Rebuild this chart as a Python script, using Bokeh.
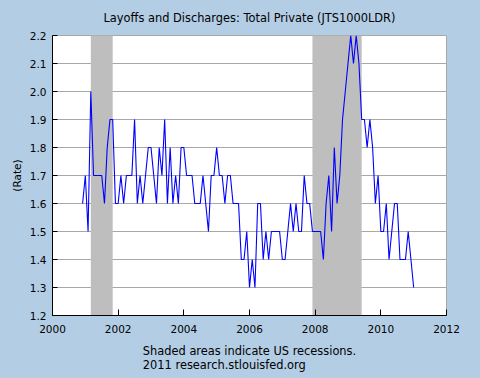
from bokeh.plotting import figure
from bokeh.models import Range1d, FixedTicker, PrintfTickFormatter, Title
from bokeh.embed import file_html
from bokeh.resources import INLINE

# ---- data (monthly rate, Dec 2000 .. Jan 2011) ----
rate_2000 = [1.6]  # Dec
rate_2001 = [1.7, 1.5, 2.0, 1.7, 1.7, 1.7, 1.7, 1.6, 1.8, 1.9, 1.9, 1.6]
rate_2002 = [1.6, 1.7, 1.6, 1.7, 1.7, 1.7, 1.9, 1.6, 1.7, 1.6, 1.7, 1.8]
rate_2003 = [1.8, 1.7, 1.6, 1.8, 1.7, 1.9, 1.6, 1.8, 1.6, 1.7, 1.6, 1.8]
rate_2004 = [1.8, 1.7, 1.7, 1.7, 1.6, 1.6, 1.6, 1.7, 1.6, 1.5, 1.7, 1.7]
rate_2005 = [1.8, 1.7, 1.7, 1.6, 1.7, 1.7, 1.6, 1.6, 1.6, 1.4, 1.4, 1.5]
rate_2006 = [1.3, 1.4, 1.3, 1.6, 1.6, 1.4, 1.5, 1.4, 1.5, 1.5, 1.5, 1.5]
rate_2007 = [1.4, 1.4, 1.5, 1.6, 1.5, 1.6, 1.5, 1.5, 1.7, 1.6, 1.6, 1.5]
rate_2008 = [1.5, 1.5, 1.5, 1.4, 1.6, 1.7, 1.5, 1.8, 1.6, 1.7, 1.9, 2.0]
rate_2009 = [2.1, 2.2, 2.1, 2.2, 2.1, 1.9, 1.9, 1.8, 1.9, 1.8, 1.6, 1.7]
rate_2010 = [1.5, 1.5, 1.6, 1.4, 1.5, 1.6, 1.6, 1.4, 1.4, 1.4, 1.5, 1.4]
rate_2011 = [1.3]  # Jan

series_by_year = [
    (2000, 12, rate_2000), (2001, 1, rate_2001), (2002, 1, rate_2002),
    (2003, 1, rate_2003), (2004, 1, rate_2004), (2005, 1, rate_2005),
    (2006, 1, rate_2006), (2007, 1, rate_2007), (2008, 1, rate_2008),
    (2009, 1, rate_2009), (2010, 1, rate_2010), (2011, 1, rate_2011),
]

# recessions (year, month)
recession_start = [(2001, 3), (2007, 12)]
recession_end = [(2001, 11), (2009, 6)]

x_ticks = [2000, 2002, 2004, 2006, 2008, 2010, 2012]
y_ticks = [1.2, 1.3, 1.4, 1.5, 1.6, 1.7, 1.8, 1.9, 2.0, 2.1, 2.2]

title_text = "Layoffs and Discharges: Total Private (JTS1000LDR)"
y_label_text = "(Rate)"
note_1 = "Shaded areas indicate US recessions."
note_2 = "2011 research.stlouisfed.org"

# ---- build ----
def ym(y, m):
    return y + (m - 1) / 12.0

xs, ys = [], []
for yr, m0, vals in series_by_year:
    for k, v in enumerate(vals):
        xs.append(ym(yr, m0 + k))
        ys.append(v)

BG = "#B3CDE5"
FONT = "DejaVu Sans"
FS = "10.5px"
FS_T = "11.4px"

p = figure(width=480, height=378, output_backend="svg", toolbar_location=None,
           x_range=Range1d(2000, 2012), y_range=Range1d(1.2, 2.2),
           min_border_left=52, min_border_right=34, min_border_top=35,
           min_border_bottom=60, background_fill_color="white",
           border_fill_color=BG, outline_line_color="#A8A8A8")

p.xgrid.grid_line_color = None
p.ygrid.grid_line_color = "#A8A8A8"
p.ygrid.grid_line_width = 1

p.quad(left=[ym(*s) for s in recession_start], right=[ym(*e) for e in recession_end],
       bottom=1.2, top=2.2, fill_color="#BEBEBE", line_color=None)
p.line(xs, ys, line_color="#0000FF", line_width=1.1)

p.xaxis.ticker = FixedTicker(ticks=x_ticks)
p.yaxis.ticker = FixedTicker(ticks=y_ticks)
p.yaxis.formatter = PrintfTickFormatter(format="%.1f")
for ax in (p.xaxis[0], p.yaxis[0]):
    ax.axis_line_color = "black"
    ax.major_tick_line_color = "black"
    ax.minor_tick_line_color = None
    ax.major_tick_out = 0
    ax.major_label_text_font = FONT
    ax.major_label_text_font_size = FS
    ax.major_label_text_color = "black"
p.xaxis.major_tick_in = 6
p.yaxis.major_tick_in = 5
p.xaxis.major_label_standoff = 9
p.yaxis.major_label_standoff = 6

p.add_layout(Title(text=title_text, align="center", offset=-8, text_font=FONT,
                   text_font_size=FS_T, text_font_style="normal",
                   vertical_align="top",
                   text_color="black", standoff=18), "above")
p.add_layout(Title(text=note_1 + "\n" + note_2, align="center", offset=-6,
                   text_font=FONT, text_font_size=FS_T, text_font_style="normal",
                   vertical_align="bottom",
                   text_color="black", standoff=13, text_line_height=1.0), "below")
p.add_layout(Title(text=y_label_text, align="center", offset=-20, text_font=FONT,
                   text_font_size=FS, text_font_style="normal",
                   text_color="black", standoff=7), "left")

html = file_html(p, INLINE)
html = html.replace("</head>", "<style>html,body{background:%s}</style></head>" % BG, 1)
open("out.html", "w").write(html)
